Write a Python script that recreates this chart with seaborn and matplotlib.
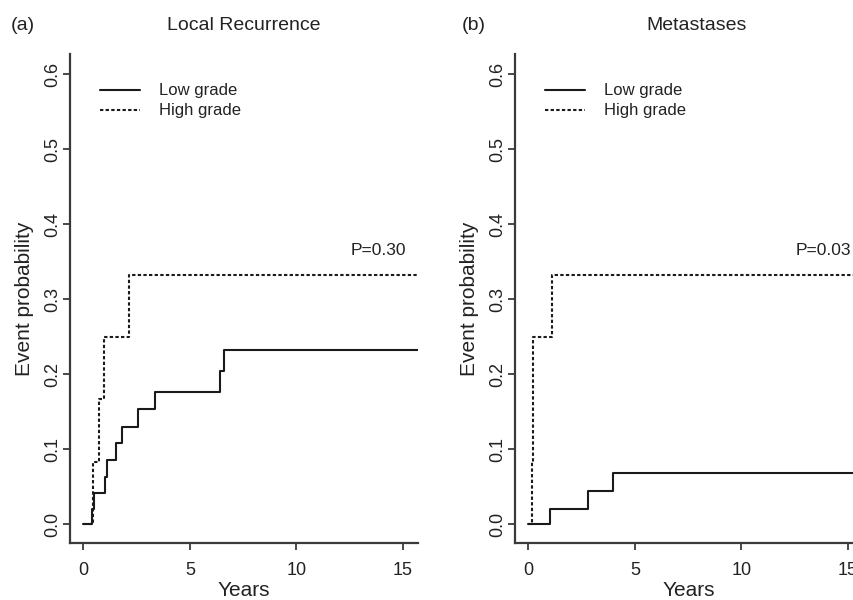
import matplotlib
matplotlib.use("Agg")
import matplotlib.pyplot as plt
import seaborn as sns
import pandas as pd

# ---- data ----
lr_low_t = [0, 0.39, 0.50, 1.02, 1.12, 1.52, 1.84, 2.55, 3.36, 6.41, 6.61, 15.7]
lr_low_p = [0, 0.021, 0.042, 0.063, 0.086, 0.108, 0.130, 0.154, 0.176, 0.205, 0.233, 0.233]
lr_high_t = [0, 0.47, 0.75, 0.98, 2.14, 15.7]
lr_high_p = [0, 0.083, 0.167, 0.250, 0.333, 0.333]

met_low_t = [0, 1.01, 2.80, 3.99, 15.7]
met_low_p = [0, 0.021, 0.045, 0.069, 0.069]
met_high_t = [0, 0.16, 0.24, 1.12, 15.7]
met_high_p = [0, 0.083, 0.250, 0.333, 0.333]

groups = ["Low grade", "High grade"]
panel_titles = ["Local Recurrence", "Metastases"]
panel_tags = ["(a)", "(b)"]
p_values = ["P=0.30", "P=0.03"]
x_ticks = [0, 5, 10, 15]
y_ticks = [0.0, 0.1, 0.2, 0.3, 0.4, 0.5, 0.6]
y_tick_labels = ["0.0", "0.1", "0.2", "0.3", "0.4", "0.5", "0.6"]

sns.set_style("ticks")
plt.rcParams["font.family"] = ["Liberation Sans", "DejaVu Sans"]

fig = plt.figure(figsize=(8.54, 6.0), dpi=100)
W, H = 854, 600
def px_axes(x0, y0, x1, y1):
    return fig.add_axes([x0 / W, 1 - y1 / H, (x1 - x0) / W, (y1 - y0) / H])

axes = [px_axes(70, 54, 418, 543), px_axes(515, 54, 863, 543)]
data_sets = [((lr_low_t, lr_low_p), (lr_high_t, lr_high_p)),
             ((met_low_t, met_low_p), (met_high_t, met_high_p))]

ink = "#1a1a1a"
axis_col = "#3a3a3a"
styles = {"Low grade": "-", "High grade": (0, (1.6, 1.1))}

for ax, ds, ptxt in zip(axes, data_sets, p_values):
    frames = []
    for g, (t, p) in zip(groups, ds):
        frames.append(pd.DataFrame({"Years": t, "prob": p, "group": g}))
    df = pd.concat(frames, ignore_index=True)
    for g in groups:
        sub = df[df["group"] == g]
        sns.lineplot(data=sub, x="Years", y="prob", ax=ax, color=ink,
                     linewidth=1.5, linestyle=styles[g], drawstyle="steps-post",
                     estimator=None, sort=False, label=g)
    ax.set_xlim(-0.62, 15.7)
    ax.set_ylim(-0.025, 0.627)
    ax.set_xticks(x_ticks)
    ax.set_xticklabels([str(v) for v in x_ticks])
    ax.set_yticks(y_ticks)
    ax.set_yticklabels(y_tick_labels, rotation=90, va="center")
    ax.tick_params(axis="both", colors=axis_col, labelcolor="#222222",
                   length=5, width=1.3)
    ax.tick_params(axis="x", labelsize=13, pad=9)
    ax.tick_params(axis="y", labelsize=13, pad=1.5)
    for s in ["left", "bottom"]:
        ax.spines[s].set_color(axis_col)
        ax.spines[s].set_linewidth(1.6)
    for s in ["top", "right"]:
        ax.spines[s].set_visible(False)
    ax.set_xlabel("Years", fontsize=15, color="#222222", labelpad=1)
    ax.set_ylabel("Event probability", fontsize=15, color="#222222", labelpad=7)
    ax.text(15.15, 0.365, ptxt, ha="right", va="center", fontsize=12.5,
            color="#222222")
    leg = ax.legend(loc="upper left", bbox_to_anchor=(0.085, 0.94),
                    frameon=False, fontsize=12, handlelength=2.4,
                    handletextpad=1.15, labelspacing=0.3, borderpad=0,
                    borderaxespad=0)
    for txt in leg.get_texts():
        txt.set_color("#222222")

fig.text(23 / W, 1 - 26 / H, panel_tags[0], ha="center", va="center",
         fontsize=14, color="#222222")
fig.text(244 / W, 1 - 25 / H, panel_titles[0], ha="center", va="center",
         fontsize=14, color="#222222")
fig.text(474 / W, 1 - 26 / H, panel_tags[1], ha="center", va="center",
         fontsize=14, color="#222222")
fig.text(697 / W, 1 - 25 / H, panel_titles[1], ha="center", va="center",
         fontsize=14, color="#222222")

fig.savefig("out.png", dpi=100)
